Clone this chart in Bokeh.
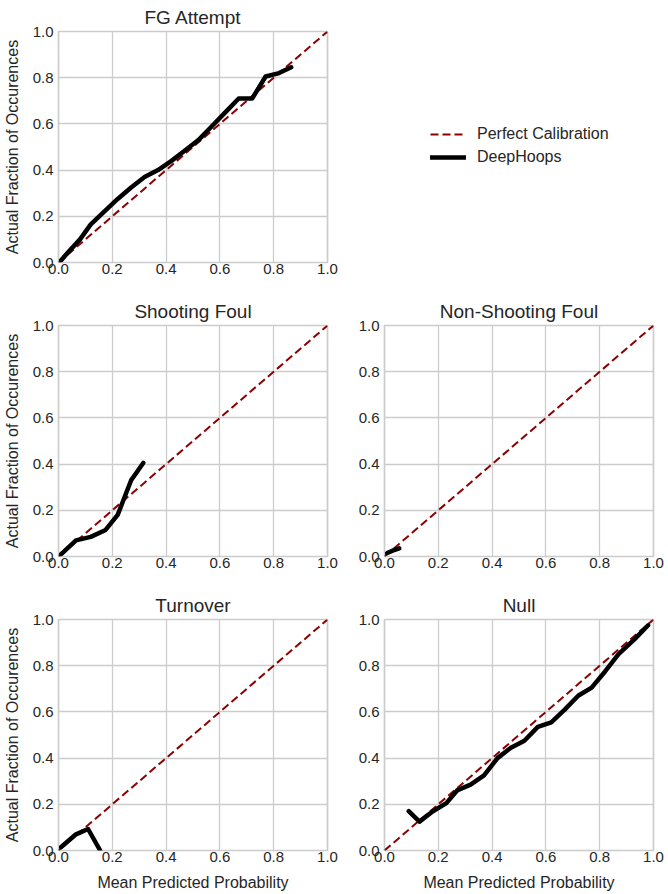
from bokeh.plotting import figure
from bokeh.layouts import column, row
from bokeh.models import Range1d, FixedTicker, PrintfTickFormatter, Legend, LegendItem
from bokeh.embed import file_html
from bokeh.resources import INLINE

# ---- data ----
tick_values = [0.0, 0.2, 0.4, 0.6, 0.8, 1.0]
perfect_x = [0.0, 1.0]
perfect_y = [0.0, 1.0]

fg_x = [0.01, 0.04, 0.08, 0.12, 0.17, 0.22, 0.27, 0.32, 0.37, 0.42, 0.47, 0.52, 0.57, 0.62, 0.67, 0.72, 0.77, 0.82, 0.865]
fg_y = [0.01, 0.05, 0.10, 0.165, 0.22, 0.275, 0.325, 0.37, 0.40, 0.44, 0.485, 0.53, 0.59, 0.65, 0.71, 0.71, 0.805, 0.82, 0.845]

sf_x = [0.01, 0.065, 0.12, 0.175, 0.22, 0.27, 0.315]
sf_y = [0.01, 0.07, 0.085, 0.115, 0.18, 0.33, 0.405]

nsf_x = [0.01, 0.03, 0.055]
nsf_y = [0.015, 0.025, 0.035]

to_x = [0.01, 0.065, 0.11, 0.155]
to_y = [0.015, 0.07, 0.093, 0.0]

null_x = [0.09, 0.13, 0.18, 0.23, 0.27, 0.32, 0.37, 0.42, 0.47, 0.52, 0.57, 0.62, 0.67, 0.72, 0.77, 0.82, 0.87, 0.93, 0.98]
null_y = [0.17, 0.125, 0.17, 0.205, 0.26, 0.285, 0.325, 0.40, 0.445, 0.475, 0.535, 0.555, 0.61, 0.67, 0.705, 0.775, 0.85, 0.915, 0.975]

FONT = "Liberation Sans"
TXT = "#262626"
GRID = "#cccccc"
RED = "#8b0000"

FH = 231
FW1, FW2 = 269, 269
L1, R1, L2, R2 = 54, 25, 32, 12
TOP, BOT, BOT_LAST = 31, 32, 47


def base(fw, left, right, bottom, title, axes=True):
    kw = dict(frame_width=fw, frame_height=FH, output_backend="svg", toolbar_location=None,
              min_border_left=left, min_border_right=right,
              min_border_top=TOP, min_border_bottom=bottom)
    if axes:
        p = figure(x_range=Range1d(0, 1), y_range=Range1d(0, 1), **kw)
    else:
        p = figure(x_range=Range1d(5, 6), y_range=Range1d(5, 6),
                   x_axis_type=None, y_axis_type=None, **kw)
    p.background_fill_color = "white"
    p.border_fill_color = "white"
    p.title.text = title
    p.title.align = "center"
    p.title.text_font = FONT
    p.title.text_font_size = "19px"
    p.title.text_font_style = "normal"
    p.title.text_color = TXT
    p.title.standoff = 8
    return p


def panel(title, xs, ys, fw, left, right, bottom, ylabel=False, xlabel=False):
    p = base(fw, left, right, bottom, title)
    p.outline_line_color = GRID
    p.outline_line_width = 1.7
    p.grid.grid_line_color = GRID
    p.grid.grid_line_width = 1.3
    for ax in p.axis:
        ax.ticker = FixedTicker(ticks=tick_values)
        ax.formatter = PrintfTickFormatter(format="%.1f")
        ax.major_label_text_font = FONT
        ax.major_label_text_font_size = "15px"
        ax.major_label_text_color = TXT
        ax.axis_line_color = None
        ax.major_tick_line_color = None
        ax.minor_tick_line_color = None
        ax.major_tick_out = 0
        ax.major_tick_in = 0
        ax.axis_label_text_font = FONT
        ax.axis_label_text_font_size = "16px"
        ax.axis_label_text_font_style = "normal"
        ax.axis_label_text_color = TXT
    p.yaxis.major_label_standoff = 5
    p.xaxis.major_label_standoff = 1
    if ylabel:
        p.yaxis.axis_label = "Actual Fraction of Occurences"
        p.yaxis.axis_label_standoff = 9
    if xlabel:
        p.xaxis.axis_label = "Mean Predicted Probability"
        p.xaxis.axis_label_standoff = 9
    p.line(perfect_x, perfect_y, line_color=RED, line_width=2, line_dash="8 4")
    p.line(xs, ys, line_color="black", line_width=4.5, line_cap="round", line_join="round")
    return p


p1 = panel("FG Attempt", fg_x, fg_y, FW1, L1, R1, BOT, ylabel=True)
p2 = panel("Shooting Foul", sf_x, sf_y, FW1, L1, R1, BOT, ylabel=True)
p3 = panel("Non-Shooting Foul", nsf_x, nsf_y, FW2, L2, R2, BOT)
p4 = panel("Turnover", to_x, to_y, FW1, L1, R1, BOT_LAST, ylabel=True, xlabel=True)
p5 = panel("Null", null_x, null_y, FW2, L2, R2, BOT_LAST, xlabel=True)

# legend-only panel in the empty top-right slot (its lines lie outside its ranges)
lg = base(FW2, L2, R2, BOT, " ", axes=False)
lg.outline_line_color = None
r1 = lg.line(perfect_x, perfect_y, line_color=RED, line_width=2, line_dash="8 4")
r2 = lg.line(fg_x, fg_y, line_color="black", line_width=4.5, line_cap="round")
legend = Legend(items=[LegendItem(label="Perfect Calibration", renderers=[r1]),
                       LegendItem(label="DeepHoops", renderers=[r2])],
                location=(46, 95), glyph_width=36, glyph_height=20, label_height=20,
                label_standoff=11, spacing=3, padding=0, margin=0,
                border_line_color=None, background_fill_alpha=0,
                label_text_font=FONT, label_text_font_size="16px", label_text_color=TXT)
lg.add_layout(legend)

layout = column(row(p1, lg), row(p2, p3), row(p4, p5))

open("out.html", "w").write(file_html(layout, INLINE))
